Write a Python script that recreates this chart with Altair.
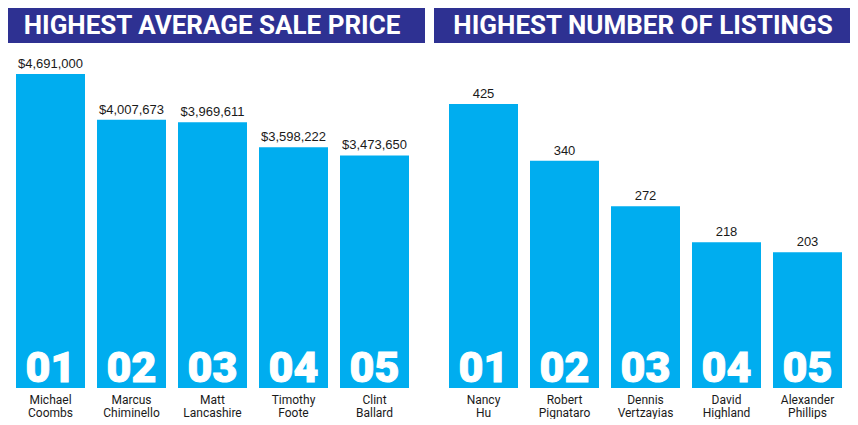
import altair as alt
import pandas as pd

# ---- data ----
ranks = ["01", "02", "03", "04", "05"]
price_names = ["Michael\nCoombs", "Marcus\nChiminello", "Matt\nLancashire", "Timothy\nFoote", "Clint\nBallard"]
price_values = [4691000, 4007673, 3969611, 3598222, 3473650]
listing_names = ["Nancy\nHu", "Robert\nPignataro", "Dennis\nVertzayias", "David\nHighland", "Alexander\nPhillips"]
listing_values = [425, 340, 272, 218, 203]
titles = ["HIGHEST AVERAGE SALE PRICE", "HIGHEST NUMBER OF LISTINGS"]

NAVY = "#2E3192"
BLUE = "#00ADEF"
HEAD = "Roboto, Liberation Sans, sans-serif"
REG = "Liberation Sans, Arial, sans-serif"


def panel(title, names, values, fmt, ytop, xrange_, width, title_x):
    df = pd.DataFrame({"rank": ranks, "name": names, "value": values})
    base = alt.Chart(df)
    x = alt.X("rank:N", scale=alt.Scale(range=xrange_, paddingInner=12 / 81, paddingOuter=6 / 81), axis=None)
    yscale = alt.Scale(domain=[0, max(values)], range=[380, ytop], nice=False)
    y = alt.Y("value:Q", scale=yscale, axis=None)

    hdr_df = pd.DataFrame({"t": [title]})
    header = alt.Chart(hdr_df).mark_rect(color=NAVY).encode(
        x=alt.value(0), x2=alt.value(width), y=alt.value(0), y2=alt.value(35)
    )
    header_text = alt.Chart(hdr_df).mark_text(
        font=HEAD, fontSize=26, fontWeight="bold", color="white", align="center", baseline="alphabetic"
    ).encode(x=alt.value(title_x), y=alt.value(26), text="t:N")

    bars = base.mark_bar(color=BLUE).encode(x=x, y=y)
    vals = base.mark_text(font=REG, fontSize=13, color="#1a1a1a", baseline="alphabetic", dy=-6).encode(
        x=x, y=y, text=alt.Text("value:Q", format=fmt)
    )
    big = base.mark_text(
        font=HEAD, fontSize=43, fontWeight=900, color="white", stroke="white", strokeWidth=1,
        baseline="alphabetic", dy=-6,
    ).encode(x=x, y=alt.Y(datum=0, type="quantitative", scale=yscale, axis=None), text="rank:N")
    nm = base.mark_text(
        font=HEAD, fontSize=12, color="#1a1a1a", baseline="alphabetic", lineBreak="\n", lineHeight=13, dy=16
    ).encode(x=x, y=alt.Y(datum=0, type="quantitative", scale=yscale, axis=None), text="name:N")

    return alt.layer(header, header_text, bars, vals, big, nm).properties(width=width, height=409)


left = panel(titles[0], price_names, price_values, "$,.0f", 66, [2, 407], 417, 204)
right = panel(titles[1], listing_names, listing_values, ",.0f", 96, [9, 414], 416, 209)

chart = alt.hconcat(left, right, spacing=9).properties(padding=0).configure_view(strokeWidth=0)

chart.save("out.html", embed_options={"renderer": "svg", "actions": False})
